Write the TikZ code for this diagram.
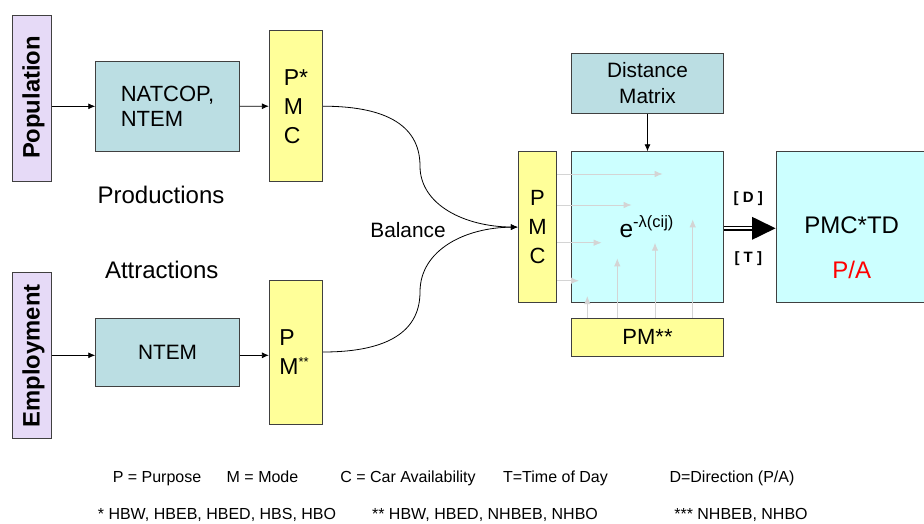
\documentclass[tikz,border=0pt]{standalone}
\usepackage{fontspec}
\setmainfont{Liberation Sans}
\usetikzlibrary{arrows.meta,calc}

\definecolor{lav}{HTML}{E6DAF7}
\definecolor{steel}{HTML}{BBDEE3}
\definecolor{paleyellow}{HTML}{FFFF99}
\definecolor{palecyan}{HTML}{CCFFFF}
\definecolor{boxline}{HTML}{404040}
\definecolor{ghost}{HTML}{D4D4D4}

\newcommand\fsz[2]{\fontsize{#1}{#2}\selectfont}

\tikzset{
  box/.style={draw=boxline, line width=0.9pt, inner sep=0pt, anchor=center},
  conn/.style={draw=black, line width=0.8pt, -{Latex[length=7pt,width=6pt]}},
  ghostarrow/.style={draw=ghost, line width=1pt, -{Latex[length=8pt,width=6.5pt]}},
  label16/.style={font=\fsz{16}{16}, anchor=base, inner sep=0pt},
  label21/.style={font=\fsz{20.8}{25}},
  label24/.style={font=\fsz{24}{24}},
}

\begin{document}
\begin{tikzpicture}[x=1pt,y=-1pt]
\useasboundingbox (0,0) rectangle (924,523);
\fill[white] (0,0) rectangle (924,523);

% ---- source boxes
\node[box, fill=lav, minimum width=39pt, minimum height=166.7pt] (pop) at (32.2,98.3) {};
\node[rotate=90, font=\fsz{23.8}{23.8}\bfseries] (poptxt) at (33.5,97.5) {Population};
\node[box, fill=lav, minimum width=39pt, minimum height=166pt] (emp) at (32.2,355.3) {};
\node[rotate=90, font=\fsz{23.8}{23.8}\bfseries] (emptxt) at (33.5,355.8) {Employment};

% ---- model boxes
\node[box, fill=steel, minimum width=143.6pt, minimum height=90.7pt,
      align=left, font=\fsz{22}{25}] (natcop) at (167.5,106.3) {NATCOP,\\NTEM};
\node[box, fill=steel, minimum width=143.6pt, minimum height=67.7pt,
      font=\fsz{20.8}{25}] (ntem) at (167.5,352.2) {NTEM};

% ---- segmentation boxes
\node[box, fill=paleyellow, minimum width=53.4pt, minimum height=151pt,
      align=left, font=\fsz{23}{29}] (pmcA) at (296,106.2) {P*\\M\\C};
\node[box, fill=paleyellow, minimum width=53.4pt, minimum height=144pt,
      align=left, font=\fsz{23}{29}] (pmB) at (296,352)
      {P\\M\raisebox{0.35em}{\fsz{13}{13}**}\hspace*{4pt}};

\node[label24] (prod) at (161,195) {Productions};
\node[label24] (attr) at (161.7,270) {Attractions};
\node[label21] (bal) at (408,230) {Balance};

% ---- distribution
\node[box, fill=paleyellow, minimum width=38.4pt, minimum height=150.8pt,
      align=center, font=\fsz{22}{29}] (pmcM) at (537.5,227.1) {P\\M\\C};
\node[box, fill=palecyan, minimum width=151.6pt, minimum height=151pt] (dist) at (647.5,227.2) {};
\node[box, fill=paleyellow, minimum width=151.6pt, minimum height=37.7pt,
      font=\fsz{22}{22}] (pmC) at (647.5,337.2) {PM**};
\node[box, fill=steel, minimum width=151.6pt, minimum height=60pt,
      align=center, font=\fsz{20.8}{25.6}] (dmat) at (647.5,83.3) {Distance\\Matrix};
\node[box, fill=palecyan, minimum width=152pt, minimum height=151pt] (res) at (852,227.2) {};
\node[label24] (restxt) at (851.7,225) {PMC*TD};
\node[label24, text=red] (pa) at (851.7,270) {P/A};

% ---- feed arrows
\draw[conn] (pop.east |- natcop.west) -- (natcop.west);
\draw[conn] (natcop.east) -- (pmcA.west);
\draw[conn] (emp.east) -- (emp.east -| ntem.west);
\draw[conn] (ntem.east |- emp.east) -- (pmB.west |- emp.east);

% ---- balancing curves
\coordinate (bendA) at (420,166);
\coordinate (bendB) at (420,292);
\draw[conn] (pmcA.east) .. controls (380,106.2) and (420,122) .. (bendA)
            .. controls (420,205) and (465,226.7) .. (pmcM.west);
\draw[conn] (pmB.east) .. controls (380,352) and (420,336) .. (bendB)
            .. controls (420,250) and (465,227.5) .. (pmcM.west);

% ---- distance matrix into the deterrence function
\draw[conn] (dmat.south) -- (dist.north);

% ---- segment flows into the deterrence function
\coordinate (h1) at (662.7,174);
\coordinate (h2) at (631.7,205);
\coordinate (h3) at (601.7,242.7);
\coordinate (h4) at (579,280.7);
\foreach \c in {h1,h2,h3,h4}
  \draw[ghostarrow] (pmcM.east |- \c) -- (\c);
\coordinate (v1) at (587.3,296);
\coordinate (v2) at (617.3,258.3);
\coordinate (v3) at (655,242.7);
\coordinate (v4) at (692.7,219.3);
\foreach \c in {v1,v2,v3,v4}
  \draw[ghostarrow] (pmC.north -| \c) -- (\c);

\node[font=\fsz{24.5}{24.5}] (expr) at (646.5,226.7)
  {e\raisebox{0.42em}{\fsz{16.5}{16.5}-λ(cij)}};

% ---- output arrow
\draw[line width=1.5pt, double=white, double distance=2pt]
  (dist.east |- 0,228.3) -- ($(res.west |- 0,228.3)+(-21,0)$);
\fill (res.west |- 0,228.3) -- ++(-23.5,-11.5) -- ++(0,23) -- cycle;
\node[font=\fsz{15}{15}\bfseries] (dlab) at (748.3,198.3) {[ D ]};
\node[font=\fsz{15}{15}\bfseries] (tlab) at (748.3,258.3) {[ T ]};

% ---- legend
\node[label16] (k1) at (157,482.7) {P = Purpose};
\node[label16] (k2) at (262.5,482.7) {M = Mode};
\node[label16] (k3) at (408,482.7) {C = Car Availability};
\node[label16] (k4) at (555.5,482.7) {T=Time of Day};
\node[label16] (k5) at (732,482.7) {D=Direction (P/A)};
\node[label16] (n1) at (217,519.7) {* HBW, HBEB, HBED, HBS, HBO};
\node[label16] (n2) at (485,519.7) {** HBW, HBED, NHBEB, NHBO};
\node[label16] (n3) at (741,519.7) {*** NHBEB, NHBO};
\end{tikzpicture}
\end{document}
